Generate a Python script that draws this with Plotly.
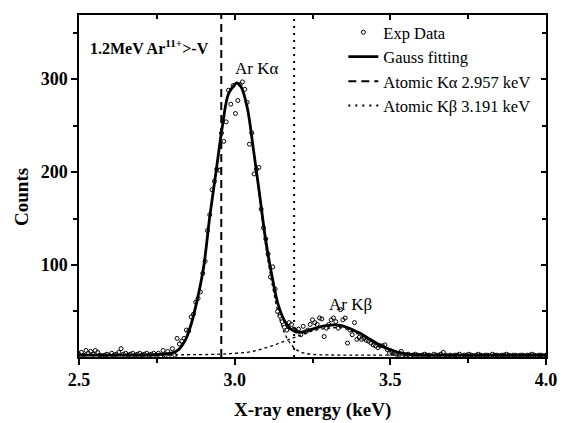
import numpy as np
import plotly.graph_objects as go

# ---------------- data ----------------
E_START = 2.5
E_STEP = 0.0075
exp_counts = [
    4, 6, 3, 8, 5, 7, 4, 8, 6, 3,
    2, 3, 4, 2, 5, 3, 4, 6, 10, 4,
    5, 3, 4, 5, 3, 4, 5, 3, 4, 5,
    3, 4, 5, 3, 5, 2, 8, 3, 7, 4,
    10, 3, 21, 15, 18, 21, 30, 29, 44, 47,
    60, 64, 71, 91, 104, 137, 154, 181, 190, 203,
    202, 242, 233, 254, 288, 273, 293, 263, 277, 294,
    297, 289, 275, 230, 242, 198, 203, 205, 160, 140,
    128, 112, 87, 98, 74, 50, 45, 39, 33, 30,
    38, 36, 31, 29, 31, 25, 34, 28, 30, 36,
    41, 38, 36, 43, 42, 23, 32, 36, 41, 43,
    39, 32, 52, 41, 43, 16, 30, 25, 38, 20,
    22, 20, 21, 19, 18, 16, 14, 13, 11, 13,
    13, 14, 9, 5, 6, 5, 4, 3, 7, 4,
    3, 4, 2, 3, 4, 3, 2, 3, 4, 3,
    3, 2, 4, 3, 3, 4, 6, 3, 2, 3,
    2, 3, 3, 4, 2, 3, 3, 4, 3, 2,
    3, 4, 3, 2, 3, 3, 2, 4, 3, 3,
    2, 3, 3, 4, 3, 2, 3, 3, 2, 3,
    3, 2, 3, 3, 4, 3, 2, 3, 3, 2,
    3,
]
exp_energy = [round(E_START + E_STEP * i, 4) for i in range(len(exp_counts))]

fit_energy = [2.50, 2.60, 2.70, 2.75, 2.78, 2.80, 2.82, 2.84, 2.86, 2.88,
              2.90, 2.92, 2.94, 2.96, 2.98, 3.00, 3.006, 3.02, 3.04, 3.06,
              3.08, 3.10, 3.12, 3.14, 3.16, 3.18, 3.20, 3.22, 3.24, 3.26,
              3.28, 3.30, 3.32, 3.34, 3.36, 3.38, 3.40, 3.42, 3.44, 3.46,
              3.48, 3.50, 3.52, 3.54, 3.56, 3.60, 3.70, 4.00]
fit_counts = [3, 3, 3, 3.5, 4.5, 5.5, 9, 18, 36, 63,
              97, 152, 200, 248, 284, 294, 296, 292, 270, 225,
              176, 126, 88, 57, 40, 31, 28, 28, 30, 32,
              34, 35, 35.5, 35, 33, 30, 27, 23, 19, 15,
              11.5, 9, 6.5, 5, 4, 3.2, 3, 3]

ka_energy = [2.75, 2.78, 2.80, 2.82, 2.84, 2.86, 2.88, 2.90, 2.92, 2.94,
             2.96, 2.98, 3.00, 3.006, 3.02, 3.04, 3.06, 3.08, 3.10, 3.12,
             3.14, 3.16, 3.18, 3.20, 3.22, 3.25, 3.30, 3.40, 4.00]
ka_counts = [3.5, 4.5, 5.5, 9, 18, 36, 63, 97, 152, 200,
             248, 284, 294, 296, 292, 270, 224, 173, 120, 80,
             48, 27, 15, 8.5, 5.5, 3.8, 3.2, 3, 3]

kb_energy = [2.50, 2.80, 2.95, 3.00, 3.04, 3.08, 3.12, 3.16, 3.20, 3.25,
             3.30, 3.35, 3.40, 3.45, 3.50, 3.55, 3.60, 4.00]
kb_counts = [3, 3.3, 4, 5, 6, 9, 13, 18, 23, 29,
             32, 32, 25, 16, 9, 5, 3.5, 3]

KA_LINE = 2.957
KB_LINE = 3.191
Y_RANGE = [1, 369]
X_RANGE = [2.5, 4.0]

FONT = "Liberation Serif"

fig = go.Figure()

# components (dotted)
fig.add_trace(go.Scatter(x=kb_energy, y=kb_counts, mode="lines", line_shape="spline",
                         line=dict(color="black", width=1.3, dash="dot"),
                         showlegend=False, hoverinfo="skip"))
fig.add_trace(go.Scatter(x=ka_energy, y=ka_counts, mode="lines", line_shape="spline",
                         line=dict(color="black", width=1.3, dash="dot"),
                         showlegend=False, hoverinfo="skip"))

fig.add_trace(go.Scatter(x=exp_energy, y=exp_counts, mode="markers", name="Exp Data",
                         marker=dict(symbol="circle-open", size=4, color="black",
                                     line=dict(width=1, color="black"))))
fig.add_trace(go.Scatter(x=fit_energy, y=fit_counts, mode="lines", name="Gauss fitting",
                         line_shape="spline", line=dict(color="black", width=2.8)))
fig.add_trace(go.Scatter(x=[KA_LINE, KA_LINE], y=Y_RANGE, mode="lines",
                         name="Atomic K\u03b1 2.957 keV",
                         line=dict(color="black", width=2, dash="8px,5px")))
fig.add_trace(go.Scatter(x=[KB_LINE, KB_LINE], y=Y_RANGE, mode="lines",
                         name="Atomic K\u03b2 3.191 keV",
                         line=dict(color="black", width=2, dash="2px,5px")))
# dummy trace for top/right inside-tick axes
fig.add_trace(go.Scatter(x=[X_RANGE[0]], y=[Y_RANGE[0]], xaxis="x2", yaxis="y2",
                         mode="markers", marker=dict(opacity=0), showlegend=False,
                         hoverinfo="skip"))

tickfont = dict(family=FONT, size=18, color="black", weight="bold")
fig.update_layout(
    width=561, height=423,
    margin=dict(l=79, r=15, t=15, b=66, autoexpand=False),
    paper_bgcolor="white", plot_bgcolor="white",
    font=dict(family=FONT, color="black"),
    xaxis=dict(range=X_RANGE, showgrid=False, zeroline=False, automargin=False,
               showline=True, linecolor="black", linewidth=1.5, mirror=True,
               ticks="outside", ticklen=6, tickwidth=1.5, tickcolor="black",
               tickvals=[2.5, 3.0, 3.5, 4.0], ticktext=["2.5", "3.0", "3.5", "4.0"],
               tickfont=tickfont,
               minor=dict(tickvals=[2.75, 3.25, 3.75], ticks="outside", ticklen=4,
                          tickwidth=1.5, tickcolor="black")),
    yaxis=dict(range=Y_RANGE, showgrid=False, zeroline=False, automargin=False,
               showline=True, linecolor="black", linewidth=1.5, mirror=True,
               ticks="outside", ticklen=6, tickwidth=1.5, tickcolor="black",
               tickvals=[100, 200, 300], tickfont=tickfont,
               minor=dict(tickvals=[50, 150, 250, 350], ticks="outside", ticklen=4,
                          tickwidth=1.5, tickcolor="black")),
    xaxis2=dict(range=X_RANGE, overlaying="x", side="top", anchor="y2", automargin=False,
                showgrid=False, zeroline=False, showline=False, showticklabels=False,
                ticks="inside", ticklen=5, tickwidth=1.5, tickcolor="black",
                tickvals=[2.5, 3.0, 3.5, 4.0],
                minor=dict(tickvals=[2.75, 3.25, 3.75], ticks="inside", ticklen=4,
                           tickwidth=1.5, tickcolor="black")),
    yaxis2=dict(range=Y_RANGE, overlaying="y", side="right", anchor="x2", automargin=False,
                showgrid=False, zeroline=False, showline=False, showticklabels=False,
                ticks="inside", ticklen=5, tickwidth=1.5, tickcolor="black",
                tickvals=[100, 200, 300],
                minor=dict(tickvals=[50, 150, 250, 350], ticks="inside", ticklen=4,
                           tickwidth=1.5, tickcolor="black")),
    legend=dict(x=0.566, y=1.0, xanchor="left", yanchor="top",
                bgcolor="rgba(0,0,0,0)", font=dict(family=FONT, size=16.5, color="black"),
                itemwidth=30, tracegroupgap=0),
    showlegend=True,
)

# axis titles
fig.add_annotation(x=(22 - 79) / 467, y=0.468, xref="paper", yref="paper",
                   xanchor="center", yanchor="middle", showarrow=False,
                   text="<b>Counts</b>", textangle=-90,
                   font=dict(family=FONT, size=19, color="black"))
fig.add_annotation(x=0.5, y=(357 - 410) / 342, xref="paper", yref="paper",
                   xanchor="center", yanchor="middle", showarrow=False,
                   text="<b>X-ray energy (keV)</b>",
                   font=dict(family=FONT, size=19, color="black"))
# labels inside the plot
fig.add_annotation(x=0.02, y=0.905, xref="paper", yref="paper", xanchor="left",
                   yanchor="middle", showarrow=False,
                   text="<b>1.2MeV Ar<sup>11+</sup>>-V</b>",
                   font=dict(family=FONT, size=16, color="black"))
fig.add_annotation(x=3.07, y=311, xref="x", yref="y", showarrow=False,
                   text="Ar K\u03b1", font=dict(family=FONT, size=17, color="black"))
fig.add_annotation(x=3.372, y=57, xref="x", yref="y", showarrow=False,
                   text="Ar K\u03b2", font=dict(family=FONT, size=17, color="black"))

fig.write_html("out.html")
